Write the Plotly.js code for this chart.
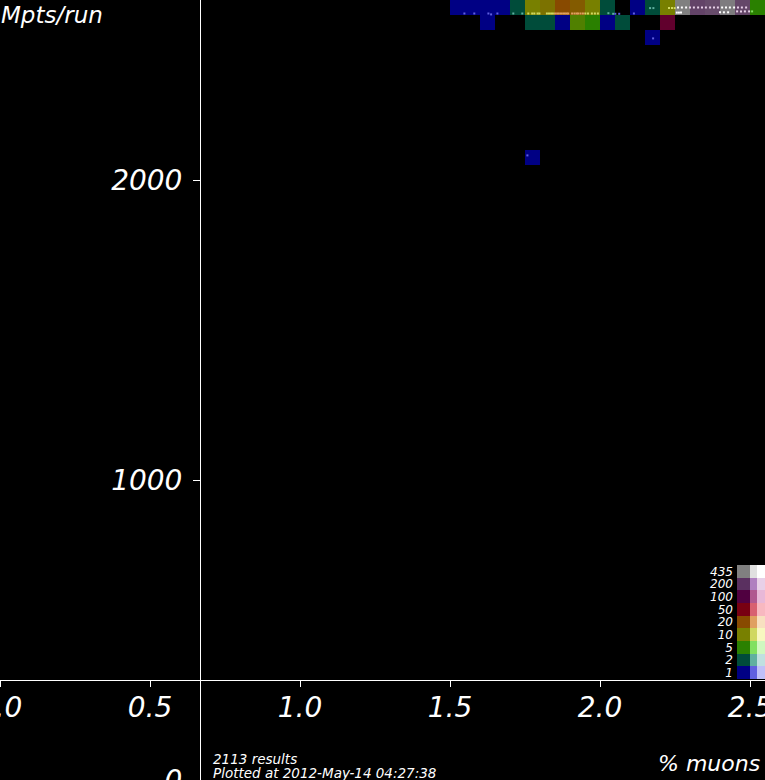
<!DOCTYPE html>
<html>
<head>
<meta charset="utf-8">
<script src="https://cdn.plot.ly/plotly-3.0.1.min.js"></script>
<style>html,body{margin:0;padding:0;background:#000;}#chart{width:765px;height:780px;}</style>
</head>
<body>
<div id="chart"></div>
<script>
// ---- data ----
const xTickVals = [0, 0.5, 1.0, 1.5, 2.0, 2.5];
const xTickText = ['0.0', '0.5', '1.0', '1.5', '2.0', '2.5'];
const yTickVals = [0, 1000, 2000];
const yTickText = ['0', '1000', '2000'];

// histogram cells: lower-left corner (% muons, Mpts/run) and number of results
const cellX = [1.50, 1.55, 1.60, 1.65, 1.70, 1.75, 1.80, 1.85, 1.90, 1.95, 2.00, 2.10, 2.15, 2.20, 2.25, 2.30, 2.35, 2.40, 2.45, 2.50,
               1.60, 1.75, 1.80, 1.85, 1.90, 1.95, 2.00, 2.05, 2.20,
               2.15,
               1.75];
const cellY = [2550, 2550, 2550, 2550, 2550, 2550, 2550, 2550, 2550, 2550, 2550, 2550, 2550, 2550, 2550, 2550, 2550, 2550, 2550, 2550,
               2500, 2500, 2500, 2500, 2500, 2500, 2500, 2500, 2500,
               2450,
               2050];
const cellN = [1, 1, 1, 1, 2, 10, 12, 20, 16, 10, 2, 1, 2, 10, 435, 240, 260, 420, 250, 5,
               1, 2, 2, 1, 7, 5, 1, 2, 75,
               1,
               1];

// individual results drawn as tiny dots
const ptX = [1.548, 1.581, 1.628, 1.637, 1.658, 1.711, 1.741, 1.761, 1.774, 1.781, 1.792, 1.798,
             1.823, 1.830, 1.837, 1.843, 1.850, 1.857, 1.863, 1.870, 1.877, 1.883, 1.889, 1.894,
             1.907, 1.915, 1.922, 1.927, 1.935, 1.943, 1.951, 1.960, 1.973, 1.983, 1.993,
             2.028, 2.044, 2.051, 2.064, 2.113, 2.167, 2.178, 2.230, 2.240, 2.249,
             2.260, 2.273, 2.287, 2.300, 2.313, 2.327, 2.340, 2.353, 2.367, 2.380, 2.393, 2.407,
             2.420, 2.433, 2.447, 2.460, 2.473, 2.487,
             2.256, 2.263, 2.270, 2.400, 2.413, 2.427, 2.457, 2.470, 2.483, 2.497, 2.507,
             2.177, 1.758];
const ptY = [2555, 2555, 2555, 2552, 2555, 2555, 2555, 2555, 2555, 2555, 2555, 2555,
             2555, 2555, 2555, 2555, 2555, 2555, 2555, 2555, 2555, 2555, 2555, 2555,
             2555, 2555, 2555, 2555, 2555, 2555, 2555, 2555, 2555, 2555, 2555,
             2556, 2554, 2554, 2554, 2555, 2573, 2573, 2573, 2573, 2573,
             2575, 2575, 2575, 2575, 2575, 2575, 2575, 2575, 2575, 2575, 2575, 2575,
             2575, 2575, 2575, 2575, 2575, 2575,
             2558, 2558, 2558, 2559, 2559, 2559, 2562, 2562, 2562, 2562, 2562,
             2472, 2082];

// colour key
const legendLabels = ['1', '2', '5', '10', '20', '50', '100', '200', '435'];
const legendCounts = [1, 2, 5, 10, 20, 50, 100, 200, 435];
const darkColors  = ['#000084', '#004c3a', '#2a8000', '#788000', '#884a00', '#780012', '#500040', '#5a3060', '#808080'];
const midColors   = ['#6060e0', '#60b0a0', '#80e060', '#d0d860', '#e0a060', '#d86070', '#b05890', '#b080c0', '#e0e0e0'];
const lightColors = ['#c0c0f8', '#c0e0e0', '#d0f8c0', '#f8f8c0', '#f8e0c0', '#f8b8c0', '#e8b8d8', '#e8d0e8', '#ffffff'];

// ---- build library inputs ----
const binW = 0.05, binH = 50, gx0 = 1.50, gy0 = 2050, nCols = 21, nRows = 11;
const z = [];
for (let r = 0; r < nRows; r++) { z.push(new Array(nCols).fill(null)); }
const cellCount = {};
for (let i = 0; i < cellX.length; i++) {
  const c = Math.round((cellX[i] - gx0) / binW);
  const r = Math.round((cellY[i] - gy0) / binH);
  z[r][c] = Math.log10(cellN[i]);
  cellCount[r + '_' + c] = cellN[i];
}
const zMax = Math.log10(legendCounts[legendCounts.length - 1]);
const mainScale = legendCounts.map((v, i) => [Math.log10(v) / zMax, darkColors[i]]);

function nearestBin(n) {
  let best = 0, bd = 1e9;
  legendCounts.forEach((v, i) => { const d = Math.abs(Math.log10(v) - Math.log10(n)); if (d < bd) { bd = d; best = i; } });
  return best;
}
const ptColor = ptX.map((x, i) => {
  const c = Math.floor((x - gx0) / binW + 1e-9);
  const r = Math.floor((ptY[i] - gy0) / binH + 1e-9);
  const n = cellCount[r + '_' + c] || 1;
  const b = nearestBin(n);
  return n >= 200 ? lightColors[b] : midColors[b];
});

// key as a small heatmap: 9 rows x 3 shades
const keyZ = [], keyScale = [];
const nK = legendCounts.length * 3;
for (let r = 0; r < legendCounts.length; r++) {
  keyZ.push([3 * r + 0.5, 3 * r + 1.5, 3 * r + 2.5]);
  [darkColors[r], midColors[r], lightColors[r]].forEach((col, k) => {
    const idx = 3 * r + k;
    keyScale.push([idx / nK, col]);
    keyScale.push([(idx + 1) / nK, col]);
  });
}
const keyRows = legendCounts.map((v, i) => i + 0.5);

const traces = [
  {
    type: 'heatmap', z: z, x0: gx0 + binW / 2, dx: binW, y0: gy0 + binH / 2, dy: binH,
    zmin: 0, zmax: zMax, colorscale: mainScale, showscale: false, hoverinfo: 'skip',
    xaxis: 'x', yaxis: 'y'
  },
  {
    type: 'scatter', mode: 'markers', x: ptX, y: ptY,
    marker: { size: 2, symbol: 'square', color: ptColor, line: { width: 0 } },
    hoverinfo: 'skip', xaxis: 'x', yaxis: 'y'
  },
  {
    type: 'heatmap', z: keyZ, x: [0, 13, 20, 28], y: [0, 1, 2, 3, 4, 5, 6, 7, 8, 9],
    zmin: 0, zmax: nK, colorscale: keyScale, showscale: false, hoverinfo: 'skip',
    xaxis: 'x2', yaxis: 'y2'
  }
];

const tickFontBig = { family: 'DejaVu Sans', size: 28, color: '#ffffff', style: 'italic' };
const layout = {
  width: 765, height: 780,
  margin: { l: 0, r: 0, t: 0, b: 0, pad: 0 },
  paper_bgcolor: '#000000', plot_bgcolor: '#000000',
  showlegend: false,
  font: { family: 'DejaVu Sans', color: '#ffffff' },
  xaxis: {
    domain: [0, 1], range: [0, 2.55], anchor: 'free', position: 100 / 780,
    showline: true, linecolor: '#ffffff', linewidth: 1,
    ticks: 'outside', ticklen: 6, tickwidth: 1, tickcolor: '#ffffff',
    tickmode: 'array', tickvals: xTickVals, ticktext: xTickText,
    tickfont: tickFontBig, ticklabelstandoff: -4, ticklabeloverflow: 'allow',
    showgrid: false, zeroline: false, fixedrange: true
  },
  yaxis: {
    domain: [0, 1], range: [0, 2600], anchor: 'free', position: 200 / 765,
    showline: true, linecolor: '#ffffff', linewidth: 1,
    ticks: 'outside', ticklen: 7, tickwidth: 1, tickcolor: '#ffffff',
    tickmode: 'array', tickvals: yTickVals, ticktext: yTickText,
    tickfont: tickFontBig, ticklabelstandoff: 5, ticklabeloverflow: 'allow',
    showgrid: false, zeroline: false, fixedrange: true
  },
  xaxis2: {
    domain: [737 / 765, 1], range: [0, 28], anchor: 'y2',
    showticklabels: false, showline: false, showgrid: false, zeroline: false, ticks: '', fixedrange: true
  },
  yaxis2: {
    domain: [(780 - 679) / 780, (780 - 565) / 780], range: [0, 9], anchor: 'x2',
    tickmode: 'array', tickvals: keyRows, ticktext: legendLabels,
    tickfont: { family: 'DejaVu Sans', size: 12, color: '#ffffff', style: 'italic' },
    ticks: '', ticklabelstandoff: 3, showline: false, showgrid: false, zeroline: false, fixedrange: true
  },
  annotations: [
    { text: 'Mpts/run', xref: 'paper', yref: 'paper', x: 0, y: 1, xanchor: 'left', yanchor: 'top', yshift: -1,
      showarrow: false, font: { family: 'DejaVu Sans', size: 23, color: '#ffffff', style: 'italic' }, borderpad: 0 },
    { text: '% muons', xref: 'paper', yref: 'paper', x: 761 / 765, y: (780 - 763) / 780, xanchor: 'right', yanchor: 'middle',
      showarrow: false, font: { family: 'DejaVu Sans', size: 22, color: '#ffffff', style: 'italic' }, borderpad: 0 },
    { text: '2113 results', xref: 'paper', yref: 'paper', x: 212 / 765, y: (780 - 758.5) / 780, xanchor: 'left', yanchor: 'middle',
      showarrow: false, font: { family: 'DejaVu Sans', size: 13.5, color: '#ffffff', style: 'italic' }, borderpad: 0 },
    { text: 'Plotted at 2012-May-14 04:27:38', xref: 'paper', yref: 'paper', x: 212 / 765, y: (780 - 773) / 780, xanchor: 'left', yanchor: 'middle',
      showarrow: false, font: { family: 'DejaVu Sans', size: 13.5, color: '#ffffff', style: 'italic' }, borderpad: 0 }
  ]
};

Plotly.newPlot('chart', traces, layout, { staticPlot: true, displayModeBar: false });
</script>
</body>
</html>
